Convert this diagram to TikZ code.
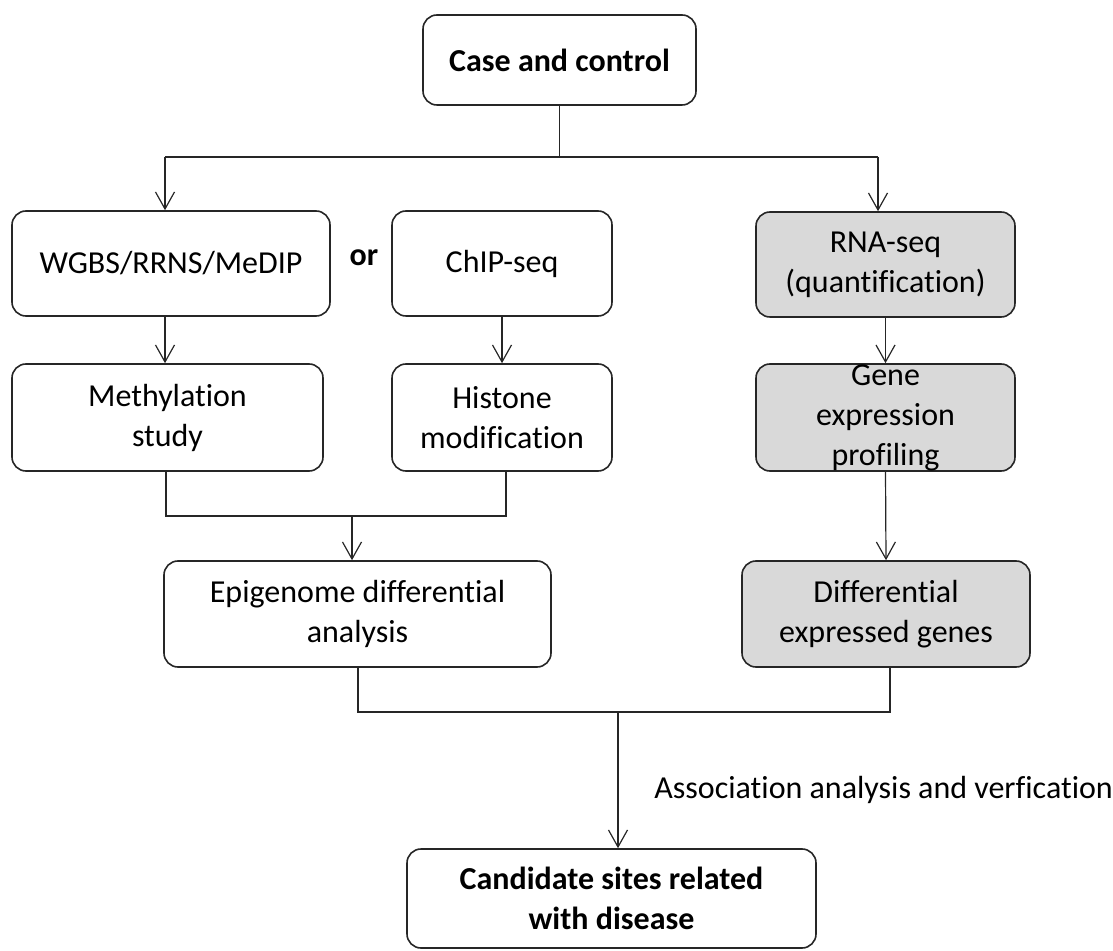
\documentclass[tikz,border=0pt]{standalone}
\usepackage{fontspec}
\setmainfont{Carlito}[Ligatures=NoCommon]
\usetikzlibrary{arrows.meta,calc}
\begin{document}
\begin{tikzpicture}[x=0.5pt,y=-0.5pt,
  box/.style={draw=black!85, line width=0.8pt, rounded corners=7pt, align=center, inner sep=0pt, font=\fontsize{16}{20}\selectfont},
  graybox/.style={box, fill=gray!30},
  conn/.style={draw=black!85, line width=0.6pt},
  arr/.style={conn, -{Straight Barb[length=8.5pt,width=9.5pt]}},
  lbl/.style={inner sep=0pt, font=\fontsize{16}{20}\selectfont}
  ]
\useasboundingbox (0,0) rectangle (1113,951);
% boxes
\node[box, font=\fontsize{16}{20}\selectfont\bfseries, minimum width=136.5pt, minimum height=45pt] (case) at (559.5,60) {Case and control};
\node[box, minimum width=159pt, minimum height=52.5pt] (wgbs) at (171,263.5) {WGBS/RRNS/MeDIP};
\node[box, minimum width=110pt, minimum height=52.5pt] (chip) at (502,263.5) {ChIP-seq};
\node[graybox, minimum width=129.5pt, minimum height=52.5pt] (rna) at (885.5,264.5) {RNA-seq\\(quantification)};
\node[box, minimum width=155.5pt, minimum height=53.5pt] (meth) at (167.5,417.5) {Methylation\\study};
\node[box, minimum width=110pt, minimum height=53.5pt] (hist) at (502,417.5) {Histone\\modification};
\node[graybox, minimum width=129.5pt, minimum height=53.5pt] (gene) at (885.5,417.5) {Gene\\expression\\profiling};
\node[box, minimum width=193.5pt, minimum height=53pt] (epi) at (357.5,614) {Epigenome differential\\analysis};
\node[graybox, minimum width=144pt, minimum height=53pt] (diff) at (886,614) {Differential\\expressed genes};
\node[box, font=\fontsize{16}{20}\selectfont\bfseries, minimum width=204.5pt, minimum height=49.5pt] (cand) at (611.5,898.5) {Candidate sites related\\with disease};
% labels
\node[lbl, font=\fontsize{16}{20}\selectfont\bfseries] (or) at (364,258) {or};
\node[lbl, anchor=west] (assoc) at (654,790) {Association analysis and verfication};
% junction coordinates
\coordinate (s1) at (559.5,157);
\coordinate (l1) at (165,157);
\coordinate (r1) at (878,157);
\coordinate (bl) at (166,516);
\coordinate (br) at (506,516);
\coordinate (b) at (352,516);
\coordinate (cl) at (358,712);
\coordinate (cr) at (890,712);
\coordinate (c) at (618,712);
% connectors
\draw[conn] (case.south) -- (s1);
\draw[conn] (l1) -- (r1);
\draw[arr] (l1) -- (l1 |- wgbs.north);
\draw[arr] (r1) -- (r1 |- rna.north);
\draw[arr] (wgbs.south -| l1) -- (meth.north -| l1);
\draw[arr] (chip.south) -- (hist.north);
\draw[arr] (rna.south) -- (gene.north);
\draw[arr] (gene.south) -- (diff.north);
\draw[conn] (bl |- meth.south) -- (bl) -- (br) -- (br |- hist.south);
\draw[arr] (b) -- (b |- epi.north);
\draw[conn] (cl |- epi.south) -- (cl) -- (cr) -- (cr |- diff.south);
\draw[arr] (c) -- (c |- cand.north);
\end{tikzpicture}
\end{document}
